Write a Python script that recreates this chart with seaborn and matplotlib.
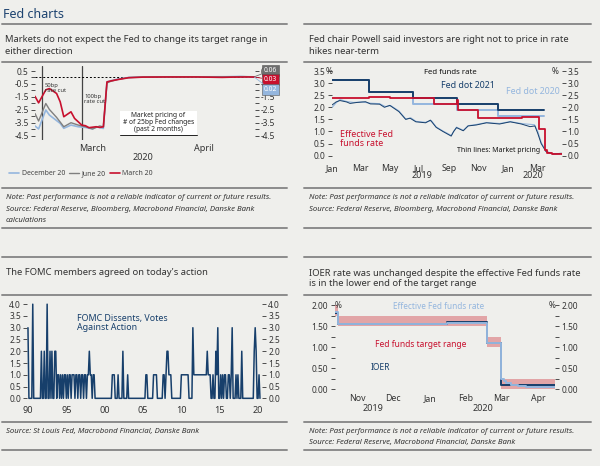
import pandas as pd
import matplotlib
matplotlib.use("Agg")
import matplotlib.pyplot as plt
from matplotlib.lines import Line2D
from matplotlib.patches import Rectangle
from matplotlib.ticker import FormatStrFormatter
import seaborn as sns

# ---------------- data: top left, market pricing of # of 25bp changes ----------------
mar20_dates = ["2020-02-29", "2020-03-01", "2020-03-03", "2020-03-04", "2020-03-06", "2020-03-07",
               "2020-03-08", "2020-03-10", "2020-03-11", "2020-03-13", "2020-03-14", "2020-03-15",
               "2020-03-17", "2020-03-18", "2020-03-19", "2020-03-20", "2020-03-21", "2020-03-23",
               "2020-03-26", "2020-03-30", "2020-04-06", "2020-04-14", "2020-04-21", "2020-04-24",
               "2020-04-28", "2020-04-30"]
mar20_vals = [-1.45, -1.95, -0.95, -0.85, -1.23, -1.87, -3.02, -2.64, -3.15, -3.66, -3.71, -3.86,
              -3.79, -3.84, -3.79, -0.34, -0.27, -0.16, -0.02, 0.03, 0.04, 0.04, 0.01, 0.03, 0.04, 0.03]

jun20_dates = ["2020-02-29", "2020-03-01", "2020-03-03", "2020-03-04", "2020-03-06", "2020-03-08",
               "2020-03-10", "2020-03-12", "2020-03-14", "2020-03-16", "2020-03-18", "2020-03-19",
               "2020-03-20", "2020-03-21", "2020-03-23", "2020-03-26", "2020-03-30", "2020-04-07",
               "2020-04-15", "2020-04-22", "2020-04-27", "2020-04-30"]
jun20_vals = [-2.77, -3.35, -2.00, -2.46, -3.07, -3.79, -3.48, -3.66, -3.79, -3.96, -3.73, -3.80,
              -0.42, -0.30, -0.15, 0.00, 0.04, 0.05, 0.05, 0.05, 0.07, 0.06]

dec20_dates = ["2020-02-29", "2020-03-01", "2020-03-03", "2020-03-04", "2020-03-07", "2020-03-08",
               "2020-03-10", "2020-03-12", "2020-03-14", "2020-03-16", "2020-03-17", "2020-03-19",
               "2020-03-20", "2020-03-21", "2020-03-23", "2020-03-26", "2020-03-30", "2020-04-07",
               "2020-04-15", "2020-04-22", "2020-04-26", "2020-04-30"]
dec20_vals = [-3.73, -3.96, -2.50, -2.89, -3.53, -3.91, -3.66, -3.79, -3.84, -3.96, -3.79, -3.92,
              -0.34, -0.25, -0.12, 0.00, 0.04, 0.05, 0.05, 0.06, 0.08, 0.02]

cut_dates = ["2020-03-02", "2020-03-13"]

# ---------------- data: top right, Fed funds rate, dots and market pricing ----------------
dot_dates = ["2019-01-01", "2019-03-20", "2019-06-19", "2019-09-18", "2019-12-11", "2020-03-15"]
dot2021 = [3.125, 2.625, 2.375, 2.125, 1.875, 1.875]
dot2020 = [3.125, 2.625, 2.125, 1.875, 1.625, 1.625]

effr_dates = ["2019-01-01", "2019-03-20", "2019-04-10", "2019-05-02", "2019-06-20", "2019-08-01",
              "2019-09-17", "2019-09-19", "2019-10-31", "2020-01-30", "2020-03-04", "2020-03-16",
              "2020-03-20", "2020-04-01", "2020-04-20"]
effr_vals = [2.40, 2.41, 2.44, 2.40, 2.38, 2.13, 2.30, 1.90, 1.55, 1.59, 1.10, 0.25, 0.10, 0.05, 0.05]

mkt21_dates = ["2019-01-02", "2019-01-10", "2019-01-18", "2019-02-01", "2019-02-08", "2019-02-22",
               "2019-03-12", "2019-03-22", "2019-04-10", "2019-04-20", "2019-05-01", "2019-05-20",
               "2019-06-03", "2019-06-12", "2019-06-24", "2019-07-14", "2019-07-24", "2019-08-05",
               "2019-08-19", "2019-09-05", "2019-09-10", "2019-09-16", "2019-09-30", "2019-10-10",
               "2019-10-27", "2019-11-17", "2019-12-14", "2020-01-05", "2020-01-28", "2020-02-15",
               "2020-02-25", "2020-03-02", "2020-03-09", "2020-03-19", "2020-04-03", "2020-04-20"]
mkt21_vals = [2.10, 2.22, 2.28, 2.22, 2.16, 2.20, 2.23, 2.14, 2.13, 2.00, 2.08, 1.82,
              1.50, 1.55, 1.40, 1.36, 1.47, 1.17, 1.00, 0.81, 1.00, 1.16, 1.03, 1.23,
              1.27, 1.36, 1.31, 1.40, 1.31, 1.20, 1.23, 0.92, 0.50, 0.17, 0.07, 0.10]

mkt20_dates = ["2019-01-02", "2019-01-10", "2019-01-18", "2019-02-01", "2019-02-15", "2019-03-05",
               "2019-03-22", "2019-04-10", "2019-04-22", "2019-05-03", "2019-05-20", "2019-06-03",
               "2019-06-14", "2019-06-24", "2019-07-14", "2019-07-26", "2019-08-05", "2019-08-19",
               "2019-09-05", "2019-09-16", "2019-09-30", "2019-10-10", "2019-10-27", "2019-11-17",
               "2019-12-14", "2020-01-05", "2020-01-28", "2020-02-12", "2020-02-24", "2020-03-02",
               "2020-03-09", "2020-03-19", "2020-04-03", "2020-04-20"]
mkt20_vals = [2.00, 2.18, 2.32, 2.24, 2.20, 2.22, 2.17, 2.15, 2.03, 2.07, 1.85, 1.52,
              1.56, 1.42, 1.38, 1.45, 1.19, 1.02, 0.84, 1.18, 1.05, 1.24, 1.29, 1.37,
              1.33, 1.41, 1.33, 1.30, 1.28, 1.00, 0.55, 0.18, 0.06, 0.08]

# ---------------- data: bottom left, FOMC dissents per meeting (8 a year) ----------------
first_year = 1990
dissents_by_year = [
    [3, 0, 0, 0, 0, 4, 0, 0],  # 1990
    [0, 0, 0, 0, 0, 0, 2, 0],
    [0, 2, 0, 0, 4, 0, 0, 2],
    [0, 2, 0, 0, 2, 2, 0, 1],
    [1, 0, 1, 0, 1, 0, 1, 1],
    [0, 1, 0, 1, 1, 0, 1, 1],  # 1995
    [1, 0, 1, 1, 0, 1, 1, 0],
    [1, 1, 0, 1, 1, 0, 1, 1],
    [2, 1, 1, 0, 1, 1, 0, 0],
    [0, 0, 0, 0, 0, 0, 0, 0],
    [0, 0, 0, 0, 0, 0, 0, 0],  # 2000
    [1, 1, 1, 0, 0, 0, 1, 0],
    [0, 0, 0, 2, 0, 0, 0, 0],
    [1, 0, 0, 0, 0, 0, 0, 0],
    [0, 0, 0, 0, 0, 0, 0, 0],
    [0, 0, 0, 1, 1, 0, 0, 0],  # 2005
    [0, 0, 0, 1, 1, 1, 1, 0],
    [0, 0, 0, 0, 0, 1, 1, 0],
    [1, 2, 2, 1, 1, 1, 0, 0],
    [0, 0, 0, 0, 0, 0, 0, 0],
    [1, 1, 1, 1, 1, 1, 1, 1],  # 2010
    [0, 0, 0, 0, 3, 1, 1, 1],
    [1, 1, 1, 1, 1, 1, 1, 1],
    [1, 1, 1, 2, 1, 1, 1, 0],
    [0, 1, 0, 0, 2, 1, 3, 0],
    [0, 1, 0, 1, 0, 1, 1, 0],  # 2015
    [0, 1, 1, 0, 1, 3, 0, 0],
    [0, 1, 0, 1, 0, 0, 0, 2],
    [0, 0, 0, 0, 0, 0, 0, 0],
    [0, 0, 0, 0, 2, 3, 2, 0],
    [0, 1, 0],                 # 2020
]
decade_labels = ["90", "95", "00", "05", "10", "15", "20"]

# ---------------- data: bottom right, IOER and target range ----------------
range_dates = ["2019-10-28", "2019-10-31", "2020-03-04", "2020-03-16", "2020-04-30"]
range_low = [1.75, 1.50, 1.00, 0.00, 0.00]
range_high = [2.00, 1.75, 1.25, 0.25, 0.25]

ioer_dates = ["2019-10-28", "2019-10-31", "2020-01-30", "2020-03-04", "2020-03-16", "2020-04-30"]
ioer_vals = [1.80, 1.55, 1.60, 1.10, 0.10, 0.10]

effr2_dates = ["2019-10-28", "2019-10-31", "2020-01-30", "2020-03-04", "2020-03-16", "2020-03-18",
               "2020-03-20", "2020-03-24", "2020-03-30", "2020-04-06", "2020-04-30"]
effr2_vals = [1.83, 1.55, 1.58, 1.09, 0.25, 0.20, 0.14, 0.10, 0.08, 0.05, 0.05]

# ---------------- style ----------------
sns.set_style("white")
plt.rcParams["font.family"] = ["Noto Sans", "DejaVu Sans"]
plt.rcParams["axes.unicode_minus"] = False

NAVY = "#173f6b"
LIGHT = "#94b6de"
RED = "#c8102e"
GRAY = "#7f7f7f"
BG = "#efefec"
RULE = "#8c8c8c"
TXT = "#333333"
TITLE_FS = 6.8
NOTE_FS = 5.6

W, H = 600, 466
fig = plt.figure(figsize=(6, 4.66), dpi=100, facecolor=BG)


def fx(x):
    return x / W


def fy(y):
    return 1 - y / H


def add_ax(left, top, right, bottom):
    ax = fig.add_axes([left / W, 1 - bottom / H, (right - left) / W, (bottom - top) / H])
    ax.set_facecolor("none")
    for spine in ax.spines.values():
        spine.set_visible(False)
    ax.tick_params(axis="both", which="both", direction="out", length=3, width=0.6,
                   color=TXT, labelcolor=TXT, labelsize=6, pad=1.5)
    ax.tick_params(axis="y", which="both", left=True, right=True, labelleft=True, labelright=True)
    return ax


def clear_labels(ax):
    ax.set_xlabel("")
    ax.set_ylabel("")


def rule(x0, x1, y, lw=1.4):
    fig.add_artist(Line2D([fx(x0), fx(x1)], [fy(y), fy(y)], color=RULE, lw=lw))


def label(x, y, s, **kw):
    kw.setdefault("color", TXT)
    kw.setdefault("va", "baseline")
    fig.text(fx(x), fy(y), s, **kw)


def note(x, y, s):
    label(x, y, s, fontsize=NOTE_FS, style="italic")


def dt(lst):
    return pd.to_datetime(lst)


def month_ticks(ax, starts, mids, names, size=6.5, pad=3):
    ax.set_xticks(dt(starts))
    ax.set_xticklabels([])
    ax.set_xticks(dt(mids), minor=True)
    ax.set_xticklabels(names, minor=True)
    ax.tick_params(axis="x", which="major", length=2)
    ax.tick_params(axis="x", which="minor", length=0, labelsize=size, pad=pad)


# ---------------- header and rules ----------------
label(3, 17.5, "Fed charts", fontsize=9, color="#1d4370")
for x0, x1 in [(2, 287), (304, 591)]:
    for y in [24.3, 62.3, 188.3, 228.3, 256.7, 295, 421.7, 450]:
        rule(x0, x1, y)

NOTE = "Note: Past performance is not a reliable indicator of current or future results."

# ---------------- top left ----------------
label(5, 42.5, "Markets do not expect the Fed to change its target range in", fontsize=TITLE_FS)
label(5, 53.5, "either direction", fontsize=TITLE_FS)

ax1 = add_ax(35, 66, 254.5, 140)
sns.lineplot(x=dt(dec20_dates), y=dec20_vals, ax=ax1, color=LIGHT, lw=1.2, label="December 20")
sns.lineplot(x=dt(jun20_dates), y=jun20_vals, ax=ax1, color=GRAY, lw=1.0, label="June 20")
sns.lineplot(x=dt(mar20_dates), y=mar20_vals, ax=ax1, color=RED, lw=1.2, label="March 20")
clear_labels(ax1)
for d in cut_dates:
    ax1.axvline(pd.Timestamp(d), color="#444444", lw=0.9, zorder=1)
ax1.axhline(0, color="black", lw=0.7, ls=(0, (2, 2)), zorder=1)
ax1.set_xlim(pd.Timestamp("2020-02-29"), pd.Timestamp("2020-04-30"))
ax1.set_ylim(-4.81, 0.885)
ax1.set_yticks([0.5, -0.5, -1.5, -2.5, -3.5, -4.5])
ax1.set_yticks([0, -1, -2, -3, -4], minor=True)
ax1.yaxis.set_major_formatter(FormatStrFormatter("%.1f"))
month_ticks(ax1, ["2020-03-01", "2020-04-01"], ["2020-03-16", "2020-04-16"], ["March", "April"])
label(143, 160.5, "2020", fontsize=6.5, ha="center")

leg = ax1.legend(loc="center left", bbox_to_anchor=(fx(9), fy(173.5)), bbox_transform=fig.transFigure,
                 ncol=3, frameon=False, fontsize=5, handlelength=1.5, handletextpad=0.3,
                 columnspacing=0.6, borderpad=0, borderaxespad=0)
for t in leg.get_texts():
    t.set_color("#444444")

for dates, vals, color, box_y in [(jun20_dates, jun20_vals, "#6e6e6e", 70.5),
                                  (mar20_dates, mar20_vals, RED, 79.5),
                                  (dec20_dates, dec20_vals, LIGHT, 89.5)]:
    ax1.annotate(f"{vals[-1]:.2f}", xy=(pd.Timestamp(dates[-1]), vals[-1]), xycoords="data",
                 xytext=(fx(270.5), fy(box_y)), textcoords="figure fraction",
                 ha="center", va="center", fontsize=4.8, color="white",
                 bbox=dict(boxstyle="square,pad=0.3", fc=color, ec="#555555", lw=0.4),
                 arrowprops=dict(arrowstyle="-", color=color, lw=0.6, shrinkA=0, shrinkB=0),
                 annotation_clip=False, zorder=5)

label(45, 88.5, "50bp\nrate cut", fontsize=4.2, va="center", linespacing=1.0)
label(84, 99, "100bp\nrate cut", fontsize=4.2, va="center", linespacing=1.0)
fig.add_artist(Rectangle((fx(120), fy(135)), (197 - 120) / W, (135 - 110.5) / H,
                         transform=fig.transFigure, fc="white", ec="none"))
fig.add_artist(Line2D([fx(120), fx(197)], [fy(135), fy(135)], color="#222222", lw=0.7))
label(158.5, 122.5, "Market pricing of\n# of 25bp Fed changes\n(past 2 months)", fontsize=4.8,
      ha="center", va="center", linespacing=1.05, color="#222222")

note(6, 199, NOTE)
note(6, 210.5, "Source: Federal Reserve, Bloomberg, Macrobond Financial, Danske Bank")
note(6, 222, "calculations")

# ---------------- top right ----------------
label(309, 42.5, "Fed chair Powell said investors are right not to price in rate", fontsize=TITLE_FS)
label(309, 53.5, "hikes near-term", fontsize=TITLE_FS)

ax2 = add_ax(331.7, 69.8, 561.5, 156.9)
sns.lineplot(x=dt(mkt20_dates), y=mkt20_vals, ax=ax2, color=LIGHT, lw=0.8)
sns.lineplot(x=dt(mkt21_dates), y=mkt21_vals, ax=ax2, color=NAVY, lw=0.7)
sns.lineplot(x=dt(dot_dates), y=dot2020, ax=ax2, color=LIGHT, lw=1.4, drawstyle="steps-post")
sns.lineplot(x=dt(dot_dates), y=dot2021, ax=ax2, color=NAVY, lw=1.4, drawstyle="steps-post")
sns.lineplot(x=dt(effr_dates), y=effr_vals, ax=ax2, color=RED, lw=1.3, drawstyle="steps-post")
clear_labels(ax2)
ax2.set_xlim(pd.Timestamp("2019-01-01"), pd.Timestamp("2020-04-20"))
ax2.set_ylim(-0.05, 3.55)
ax2.set_yticks([0, 0.5, 1.0, 1.5, 2.0, 2.5, 3.0, 3.5])
ax2.yaxis.set_major_formatter(FormatStrFormatter("%.1f"))
tr_months = ["2019-01-01", "2019-03-01", "2019-05-01", "2019-07-01", "2019-09-01", "2019-11-01",
             "2020-01-01", "2020-03-01"]
ax2.set_xticks(dt(tr_months))
ax2.set_xticklabels(["Jan", "Mar", "May", "Jul", "Sep", "Nov", "Jan", "Mar"])
ax2.tick_params(axis="x", length=2, labelsize=6.3, pad=3)
label(421.7, 178, "2019", fontsize=6.5, ha="center")
label(533, 178, "2020", fontsize=6.5, ha="center")
label(329.5, 71, "%", fontsize=6, ha="center", va="center")
label(555, 71, "%", fontsize=6, ha="center", va="center")

label(450, 74, "Fed funds rate", fontsize=5.6, ha="center", color="#111111")
label(468, 88, "Fed dot 2021", fontsize=6.4, ha="center", color=NAVY)
label(533, 94, "Fed dot 2020", fontsize=6.4, ha="center", color=LIGHT)
label(340, 136.7, "Effective Fed", fontsize=6.4, color=RED)
label(340, 145.7, "funds rate", fontsize=6.4, color=RED)
label(540, 151.5, "Thin lines: Market pricing", fontsize=5, ha="right", color="#111111")

note(309, 199, NOTE)
note(309, 210.5, "Source: Federal Reserve, Bloomberg, Macrobond Financial, Danske Bank")

# ---------------- bottom left ----------------
label(6, 275, "The FOMC members agreed on today's action", fontsize=TITLE_FS)

dissent_x = []
dissent_y = []
for i, votes in enumerate(dissents_by_year):
    for j, v in enumerate(votes):
        dissent_x.append(first_year + i + j / 8)
        dissent_y.append(v)

ax3 = add_ax(27.2, 303, 261.9, 399.5)
sns.lineplot(x=dissent_x, y=dissent_y, ax=ax3, color=NAVY, lw=1.1)
clear_labels(ax3)
ax3.set_xlim(1989.9, 2020.5)
ax3.set_ylim(-0.05, 4.05)
ax3.set_yticks([0, 0.5, 1.0, 1.5, 2.0, 2.5, 3.0, 3.5, 4.0])
ax3.yaxis.set_major_formatter(FormatStrFormatter("%.1f"))
ax3.set_xticks(range(1990, 2021, 5))
ax3.set_xticklabels(decade_labels)
ax3.tick_params(axis="x", length=2, labelsize=6.5, pad=3)
label(77, 321.5, "FOMC Dissents, Votes", fontsize=6.4, color=NAVY)
label(77, 330.5, "Against Action", fontsize=6.4, color=NAVY)

note(6, 433, "Source: St Louis Fed, Macrobond Financial, Danske Bank")

# ---------------- bottom right ----------------
label(309, 275.5, "IOER rate was unchanged despite the effective Fed funds rate", fontsize=TITLE_FS)
label(309, 286.5, "is in the lower end of the target range", fontsize=TITLE_FS)

ax4 = add_ax(334.5, 304.2, 555, 390.1)
ax4.fill_between(dt(range_dates), range_low, range_high, step="post", color="#d9696f", alpha=0.55, lw=0)
sns.lineplot(x=dt(ioer_dates), y=ioer_vals, ax=ax4, color=NAVY, lw=1.4, drawstyle="steps-post")
sns.lineplot(x=dt(effr2_dates), y=effr2_vals, ax=ax4, color=LIGHT, lw=1.4, drawstyle="steps-post")
clear_labels(ax4)
ax4.set_xlim(pd.Timestamp("2019-10-28"), pd.Timestamp("2020-04-30"))
ax4.set_ylim(-0.02, 2.02)
ax4.set_yticks([0, 0.5, 1.0, 1.5, 2.0])
ax4.set_yticks([0.25, 0.75, 1.25, 1.75], minor=True)
ax4.yaxis.set_major_formatter(FormatStrFormatter("%.2f"))
month_ticks(ax4, ["2019-11-01", "2019-12-01", "2020-01-01", "2020-02-01", "2020-03-01", "2020-04-01"],
            ["2019-11-16", "2019-12-16", "2020-01-16", "2020-02-15", "2020-03-16", "2020-04-16"],
            ["Nov", "Dec", "Jan", "Feb", "Mar", "Apr"], size=6.3, pad=3)
label(373, 411, "2019", fontsize=6.5, ha="center")
label(483, 411, "2020", fontsize=6.5, ha="center")
label(338.5, 305, "%", fontsize=6, ha="center", va="center")
label(552, 305, "%", fontsize=6, ha="center", va="center")

label(438.5, 306.7, "Effective Fed funds rate", fontsize=5.9, ha="center", va="center", color=LIGHT)
label(421, 344.3, "Fed funds target range", fontsize=6.1, ha="center", va="center", color=RED)
label(380.5, 367.3, "IOER", fontsize=6.1, ha="center", va="center", color=NAVY)

note(309, 433, NOTE)
note(309, 444, "Source: Federal Reserve, Macrobond Financial, Danske Bank")

fig.savefig("out.png", dpi=100, facecolor=BG)
